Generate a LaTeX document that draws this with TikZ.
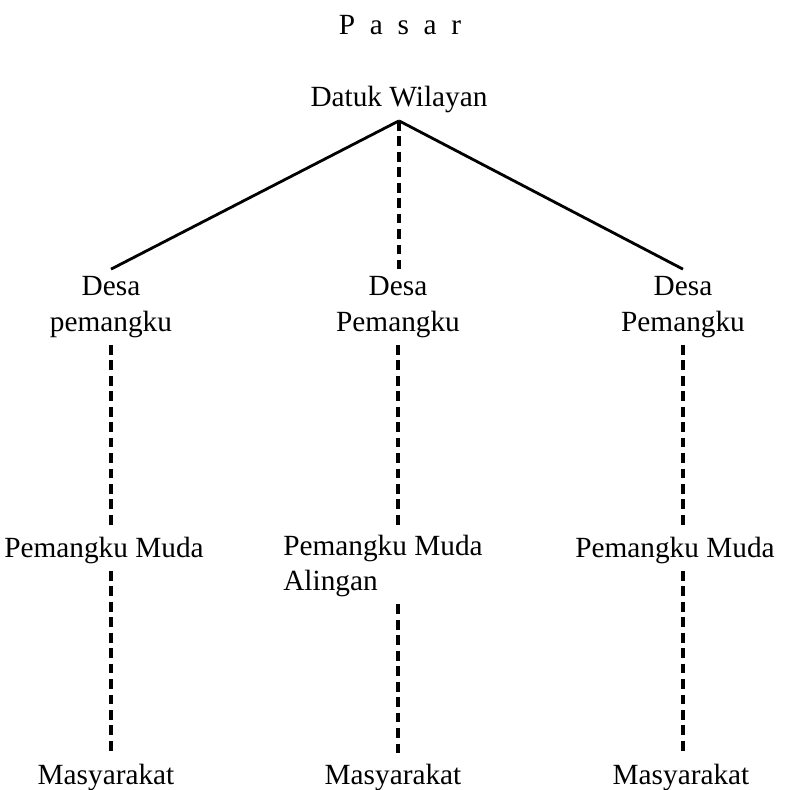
\documentclass[12pt,tikz,border=0pt]{standalone}
\usepackage{fontspec}
\setmainfont{Liberation Serif}
\usetikzlibrary{positioning}

\begin{document}
\begin{tikzpicture}[x=0.015cm, y=-0.015cm,
    lbl/.style={inner sep=3pt, align=center, font=\fontsize{12.5}{15}\selectfont},
    solidline/.style={line width=1.2pt},
    dashline/.style={line width=1.5pt, dash pattern=on 4.2pt off 2.4pt}]
    \useasboundingbox (0,0) rectangle (795,790);
    \node[lbl] (pasar) at (400,25) {P\enspace a\enspace s\enspace a\enspace r};
    \node[lbl] (datuk) at (399,100) {Datuk Wilayan};
    \node[lbl] (ldesa) at (111,307) {Desa\\pemangku};
    \node[lbl] (cdesa) at (398,307) {Desa\\Pemangku};
    \node[lbl] (rdesa) at (683,307) {Desa\\Pemangku};
    \node[lbl] (lmuda) at (104,550) {Pemangku Muda};
    \node[lbl, align=left] (cmuda) at (383,566) {Pemangku Muda\\Alingan};
    \node[lbl] (rmuda) at (675,550) {Pemangku Muda};
    \node[lbl] (lmas) at (106,777) {Masyarakat};
    \node[lbl] (cmas) at (393,777) {Masyarakat};
    \node[lbl] (rmas) at (681,777) {Masyarakat};

    \draw[solidline] (datuk.south) -- (ldesa.north);
    \draw[solidline] (datuk.south) -- (rdesa.north);
    \draw[dashline] (datuk.south) -- (datuk.south |- cdesa.north);

    \draw[dashline] (ldesa.south) -- (ldesa.south |- lmuda.north);
    \draw[dashline] (cdesa.south) -- (cdesa.south |- cmuda.north);
    \draw[dashline] (rdesa.south) -- (rdesa.south |- rmuda.north);

    \draw[dashline] (lmuda.south -| ldesa) -- (lmas.north -| ldesa);
    \draw[dashline] (cmuda.south -| cdesa) -- (cmas.north -| cdesa);
    \draw[dashline] (rmuda.south -| rdesa) -- (rmas.north -| rdesa);
\end{tikzpicture}
\end{document}
